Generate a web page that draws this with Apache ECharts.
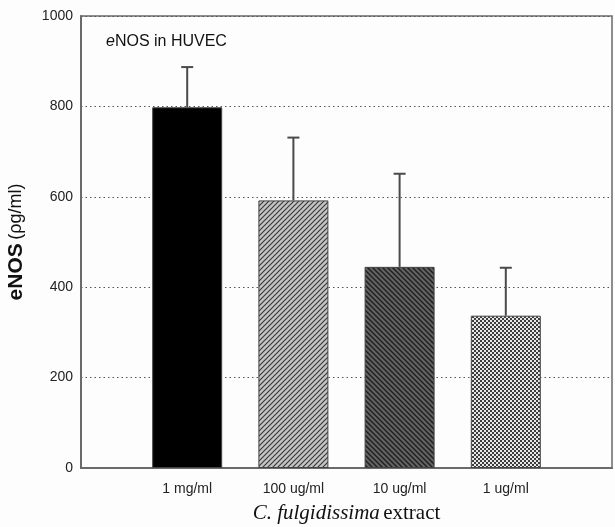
<!DOCTYPE html>
<html>
<head>
<meta charset="utf-8">
<script src="https://cdn.jsdelivr.net/npm/echarts@6/dist/echarts.min.js"></script>
<style>
html,body{margin:0;padding:0;background:#fdfdfd;}
#chart{width:615px;height:527px;}
</style>
</head>
<body>
<div id="chart"></div>
<script>
// Data
var categories = ['1 mg/ml', '100 ug/ml', '10 ug/ml', '1 ug/ml'];
var means = [798, 592, 445, 337];
var errors = [89, 139, 206, 106];
var yTicks = [0, 200, 400, 600, 800, 1000];

function makePattern(kind) {
  var c = document.createElement('canvas');
  var s = kind === 'check' ? 4 : 5;
  c.width = s; c.height = s;
  var ctx = c.getContext('2d');
  if (kind === 'fwd') {
    ctx.fillStyle = '#c4c4c4'; ctx.fillRect(0, 0, s, s);
    ctx.strokeStyle = '#3a3a3a'; ctx.lineWidth = 1.2;
    ctx.beginPath();
    ctx.moveTo(-1, s + 1); ctx.lineTo(s + 1, -1);
    ctx.moveTo(-1, 1); ctx.lineTo(1, -1);
    ctx.moveTo(s - 1, s + 1); ctx.lineTo(s + 1, s - 1);
    ctx.stroke();
  } else if (kind === 'back') {
    ctx.fillStyle = '#636363'; ctx.fillRect(0, 0, s, s);
    ctx.strokeStyle = '#1e1e1e'; ctx.lineWidth = 1.4;
    ctx.beginPath();
    ctx.moveTo(-1, -1); ctx.lineTo(s + 1, s + 1);
    ctx.moveTo(s - 1, -1); ctx.lineTo(s + 1, 1);
    ctx.moveTo(-1, s - 1); ctx.lineTo(1, s + 1);
    ctx.stroke();
  } else {
    ctx.fillStyle = '#e8e8e8'; ctx.fillRect(0, 0, s, s);
    ctx.fillStyle = '#3c3c3c';
    ctx.fillRect(0, 0, 2, 2); ctx.fillRect(2, 2, 2, 2);
  }
  return { image: c, repeat: 'repeat' };
}

var fills = ['#000000', makePattern('fwd'), makePattern('back'), makePattern('check')];

var xCats = [''].concat(categories).concat(['']);
var barData = [null].concat(means.map(function (v, i) {
  return { value: v, itemStyle: { color: fills[i] } };
})).concat([null]);
var errData = means.map(function (v, i) { return [i + 1, v, errors[i]]; });

var chart = echarts.init(document.getElementById('chart'), null, { renderer: 'canvas' });
chart.setOption({
  backgroundColor: '#fdfdfd',
  animation: false,
  title: {
    text: '{i|e}{n|NOS in HUVEC}',
    left: 101, top: 29,
    textStyle: {
      fontWeight: 'normal',
      rich: {
        i: { fontFamily: 'Liberation Sans', fontStyle: 'italic', fontWeight: 'normal', fontSize: 16, color: '#111' },
        n: { fontFamily: 'Liberation Sans', fontWeight: 'normal', fontSize: 16, color: '#111' }
      }
    }
  },
  grid: {
    left: 81, right: 3, top: 16, bottom: 59,
    outerBoundsMode: 'none',
    containLabel: false,
    show: true, borderColor: '#6a6a6a', borderWidth: 1.5, backgroundColor: 'transparent'
  },
  xAxis: {
    type: 'category',
    data: xCats,
    boundaryGap: false,
    axisLine: { show: true, lineStyle: { color: '#6a6a6a', width: 2 } },
    axisTick: { show: false },
    axisLabel: { fontFamily: 'Liberation Sans', fontSize: 14, color: '#222', margin: 14, interval: 0 },
    name: '{i|C. fulgidissima} {n|extract}',
    nameLocation: 'middle',
    nameGap: 35,
    nameTextStyle: {
      rich: {
        i: { fontFamily: 'Liberation Serif', fontStyle: 'italic', fontSize: 21, color: '#111' },
        n: { fontFamily: 'Liberation Serif', fontSize: 21, color: '#111' }
      }
    }
  },
  yAxis: {
    type: 'value',
    min: yTicks[0], max: yTicks[yTicks.length - 1], interval: 200,
    axisLine: { show: true, lineStyle: { color: '#6a6a6a', width: 2 } },
    axisTick: { show: false },
    axisLabel: { fontFamily: 'Liberation Sans', fontSize: 14, color: '#222', margin: 8,
      formatter: function (v) { return String(v); } },
    splitLine: { show: true, lineStyle: { color: '#555', type: [1.5, 3], width: 1 } },
    name: '{b|eNOS} {n|(ρg/ml)}',
    nameLocation: 'middle',
    nameGap: 54,
    nameRotate: 90,
    nameTextStyle: {
      rich: {
        b: { fontFamily: 'Liberation Sans', fontWeight: 'bold', fontSize: 21, color: '#111' },
        n: { fontFamily: 'Liberation Sans', fontSize: 18, color: '#111' }
      }
    }
  },
  series: [
    {
      type: 'bar',
      data: barData,
      barWidth: 70,
      itemStyle: { borderColor: '#444', borderWidth: 1 },
      z: 2
    },
    {
      type: 'custom',
      data: errData,
      z: 3,
      renderItem: function (params, api) {
        var x = api.value(0), m = api.value(1), e = api.value(2);
        var p0 = api.coord([x, m]);
        var p1 = api.coord([x, m + e]);
        var style = { stroke: '#4a4a4a', lineWidth: 2 };
        return {
          type: 'group',
          children: [
            { type: 'line', shape: { x1: p0[0], y1: p0[1], x2: p1[0], y2: p1[1] }, style: style },
            { type: 'line', shape: { x1: p1[0] - 6, y1: p1[1], x2: p1[0] + 6, y2: p1[1] }, style: style }
          ]
        };
      }
    }
  ]
});
</script>
</body>
</html>
